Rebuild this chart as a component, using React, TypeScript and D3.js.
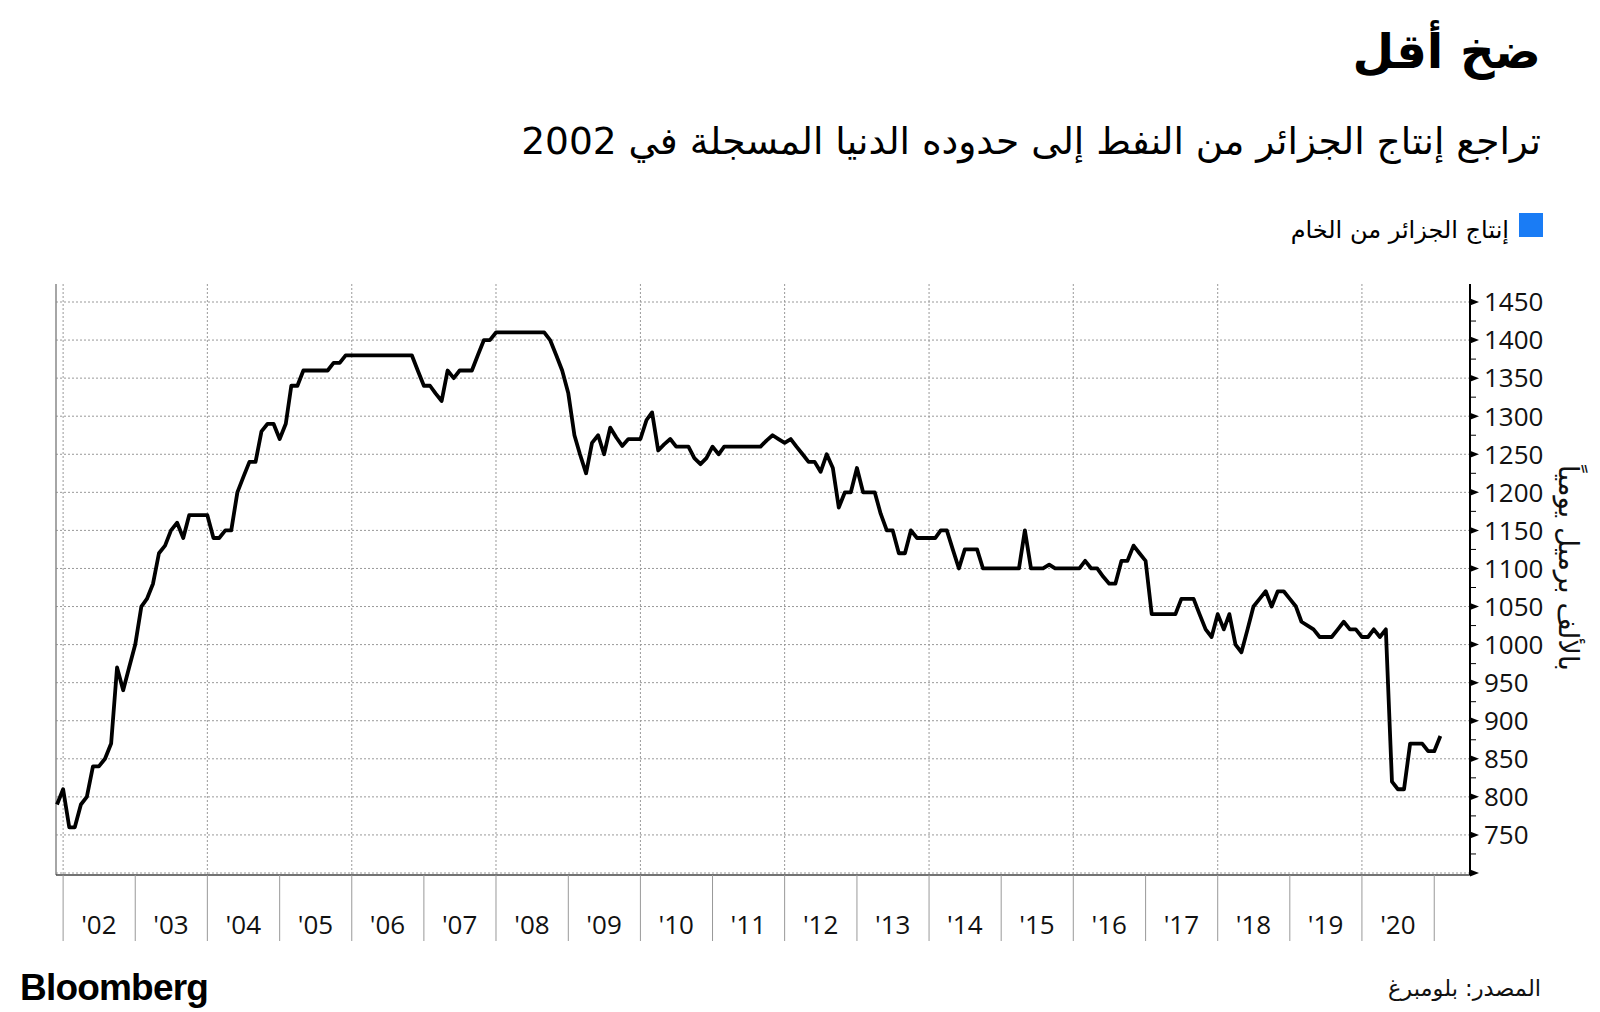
import React from "react";
import * as d3 from "d3";

// ---- Data (monthly crude output, thousand barrels/day) ----
const firstMonth = "2001-11";
const monthlyOutput: number[] = [
  // 2001 Nov-Dec
  790, 810,
  // 2002
  760, 760, 790, 800, 840, 840, 850, 870, 970, 940, 970, 1000,
  // 2003
  1050, 1060, 1080, 1120, 1130, 1150, 1160, 1140, 1170, 1170, 1170, 1170,
  // 2004
  1140, 1140, 1150, 1150, 1200, 1220, 1240, 1240, 1280, 1290, 1290, 1270,
  // 2005
  1290, 1340, 1340, 1360, 1360, 1360, 1360, 1360, 1370, 1370, 1380, 1380,
  // 2006
  1380, 1380, 1380, 1380, 1380, 1380, 1380, 1380, 1380, 1380, 1360, 1340,
  // 2007
  1340, 1330, 1320, 1360, 1350, 1360, 1360, 1360, 1380, 1400, 1400, 1410,
  // 2008
  1410, 1410, 1410, 1410, 1410, 1410, 1410, 1410, 1400, 1380, 1360, 1330,
  // 2009
  1275, 1250, 1225, 1265, 1275, 1250, 1285, 1272, 1261, 1270, 1270, 1270,
  // 2010
  1295, 1305, 1255, 1263, 1270, 1260, 1260, 1260, 1245, 1237, 1245, 1260,
  // 2011
  1250, 1260, 1260, 1260, 1260, 1260, 1260, 1260, 1268, 1275, 1270, 1265,
  // 2012
  1270, 1260, 1250, 1240, 1240, 1227, 1250, 1232, 1180, 1200, 1200, 1232,
  // 2013
  1200, 1200, 1200, 1172, 1150, 1150, 1120, 1120, 1150, 1140, 1140, 1140,
  // 2014
  1140, 1150, 1150, 1125, 1100, 1125, 1125, 1125, 1100, 1100, 1100, 1100,
  // 2015
  1100, 1100, 1100, 1150, 1100, 1100, 1100, 1105, 1100, 1100, 1100, 1100,
  // 2016
  1100, 1110, 1100, 1100, 1089, 1080, 1080, 1110, 1110, 1130, 1120, 1110,
  // 2017
  1040, 1040, 1040, 1040, 1040, 1060, 1060, 1060, 1040, 1020, 1010, 1040,
  // 2018
  1020, 1040, 1000, 990, 1020, 1050, 1060, 1070, 1050, 1070, 1070, 1060,
  // 2019
  1050, 1030, 1025, 1020, 1010, 1010, 1010, 1020, 1030, 1020, 1020, 1010,
  // 2020
  1010, 1020, 1010, 1020, 820, 810, 810, 870, 870, 870, 860, 860,
  // 2021 Jan
  880,
];

const yearTickYears = [2002, 2003, 2004, 2005, 2006, 2007, 2008, 2009, 2010, 2011, 2012, 2013, 2014, 2015, 2016, 2017, 2018, 2019, 2020, 2021];
const yearLabels = ["'02", "'03", "'04", "'05", "'06", "'07", "'08", "'09", "'10", "'11", "'12", "'13", "'14", "'15", "'16", "'17", "'18", "'19", "'20"];
const gridYears = [2002, 2004, 2006, 2008, 2010, 2012, 2014, 2016, 2018, 2020];
const yTickValues = [750, 800, 850, 900, 950, 1000, 1050, 1100, 1150, 1200, 1250, 1300, 1350, 1400, 1450];
const yGridValues = [700, 750, 800, 850, 900, 950, 1000, 1050, 1100, 1150, 1200, 1250, 1300, 1350, 1400, 1450];
const yMinorValues = [725, 775, 825, 875, 925, 975, 1025, 1075, 1125, 1175, 1225, 1275, 1325, 1375, 1425];

const titleText = "ضخ أقل";
const subtitleText = "تراجع إنتاج الجزائر من النفط إلى حدوده الدنيا المسجلة في 2002";
const legendText = "إنتاج الجزائر من الخام";
const yAxisTitle = "بالألف برميل يومياً";
const sourceText = "المصدر: بلومبرغ";

const W = 1600;
const H = 1012;
const arabicFont = "'DejaVu Sans', sans-serif";
const numFont = "'Open Sans', sans-serif";

export default function App() {
  const parse = d3.timeParse("%Y-%m");
  const first = parse(firstMonth) as Date;
  const points = monthlyOutput.map((v, i) => ({
    date: d3.timeMonth.offset(first, i + 1),
    value: v,
  }));

  const plotLeft = 56;
  const plotTop = 284;
  const plotRight = 1470;
  const plotBottom = 875;

  const x = d3
    .scaleTime()
    .domain([new Date(2001, 11, 1), new Date(2021, 6, 1)])
    .range([57, plotRight]);
  const y = d3.scaleLinear().domain([700, 1450]).range([873, 302]);

  const line = d3
    .line<{ date: Date; value: number }>()
    .x((d) => x(d.date))
    .y((d) => y(d.value));

  return (
    <svg
      width={W}
      height={H}
      viewBox={`0 0 ${W} ${H}`}
      style={{ position: "absolute", left: 0, top: 0, background: "#fff" }}
    >
      <rect x={0} y={0} width={W} height={H} fill="#fff" />
      {/* Title */}
      <text
        x={1541}
        y={68}
        fontFamily={arabicFont}
        fontWeight="bold"
        fontSize={48}
        fill="#000"
        direction="rtl"
        textAnchor="start"
      >
        {titleText}
      </text>
      <text
        x={1541}
        y={154}
        fontFamily={arabicFont}
        fontSize={37.5}
        fill="#000"
        direction="rtl"
        textAnchor="start"
      >
        {subtitleText}
      </text>
      {/* Legend */}
      <rect x={1519} y={213} width={24} height={24} fill="#1a7cf5" />
      <text
        x={1509}
        y={238}
        fontFamily={arabicFont}
        fontSize={24}
        fill="#000"
        direction="rtl"
        textAnchor="start"
      >
        {legendText}
      </text>

      {/* Grid */}
      {yGridValues.map((v) => (
        <line
          key={"gy" + v}
          x1={plotLeft}
          x2={plotRight}
          y1={y(v)}
          y2={y(v)}
          stroke="#999"
          strokeWidth={1}
          strokeDasharray="2,2"
        />
      ))}
      {gridYears.map((yr) => (
        <line
          key={"gx" + yr}
          x1={x(new Date(yr, 0, 1))}
          x2={x(new Date(yr, 0, 1))}
          y1={plotTop}
          y2={plotBottom}
          stroke="#999"
          strokeWidth={1}
          strokeDasharray="2,2"
        />
      ))}
      {/* Left border */}
      <line x1={plotLeft} x2={plotLeft} y1={plotTop} y2={plotBottom} stroke="#888" strokeWidth={1.5} />
      {/* Bottom axis */}
      <line x1={plotLeft} x2={plotRight} y1={plotBottom} y2={plotBottom} stroke="#444" strokeWidth={1.5} />
      {yearTickYears.map((yr) => (
        <line
          key={"xt" + yr}
          x1={x(new Date(yr, 0, 1))}
          x2={x(new Date(yr, 0, 1))}
          y1={plotBottom}
          y2={941}
          stroke="#999"
          strokeWidth={1}
        />
      ))}
      {yearLabels.map((lab, i) => (
        <text
          key={"xl" + lab}
          x={x(new Date(yearTickYears[i], 6, 1))}
          y={934}
          textAnchor="middle"
          fontFamily={numFont}
          fontSize={26}
          fill="#111"
        >
          {lab}
        </text>
      ))}

      {/* Right axis */}
      <line x1={plotRight} x2={plotRight} y1={plotTop} y2={plotBottom} stroke="#000" strokeWidth={2} />
      {yMinorValues.map((v) => (
        <line
          key={"ym" + v}
          x1={plotRight}
          x2={plotRight + 6}
          y1={y(v)}
          y2={y(v)}
          stroke="#000"
          strokeWidth={1}
        />
      ))}
      {yGridValues.map((v) => (
        <path
          key={"ytri" + v}
          d={`M${plotRight},${y(v) - 3.5} L${plotRight + 9},${y(v)} L${plotRight},${y(v) + 3.5} Z`}
          fill="#000"
        />
      ))}
      {yTickValues.map((v) => (
        <text
          key={"yl" + v}
          x={1484}
          y={y(v)}
          dy="0.36em"
          fontFamily={numFont}
          fontSize={26}
          fill="#111"
        >
          {v}
        </text>
      ))}
      <text
        transform={`translate(1559, 568) rotate(90)`}
        textAnchor="middle"
        fontFamily={arabicFont}
        fontSize={27.5}
        fill="#111"
      >
        {yAxisTitle}
      </text>

      {/* Data line */}
      <path
        d={line(points) || ""}
        fill="none"
        stroke="#000"
        strokeWidth={3.8}
        strokeLinejoin="round"
        strokeLinecap="butt"
      />

      {/* Footer */}
      <text
        x={20}
        y={1000}
        fontFamily="'Liberation Sans', Arial, sans-serif"
        fontWeight="bold"
        fontSize={37}
        letterSpacing={-0.8}
        fill="#000"
      >
        Bloomberg
      </text>
      <text
        x={1541}
        y={996}
        fontFamily={arabicFont}
        fontSize={22.5}
        fill="#111"
        direction="rtl"
        textAnchor="start"
      >
        {sourceText}
      </text>
    </svg>
  );
}
